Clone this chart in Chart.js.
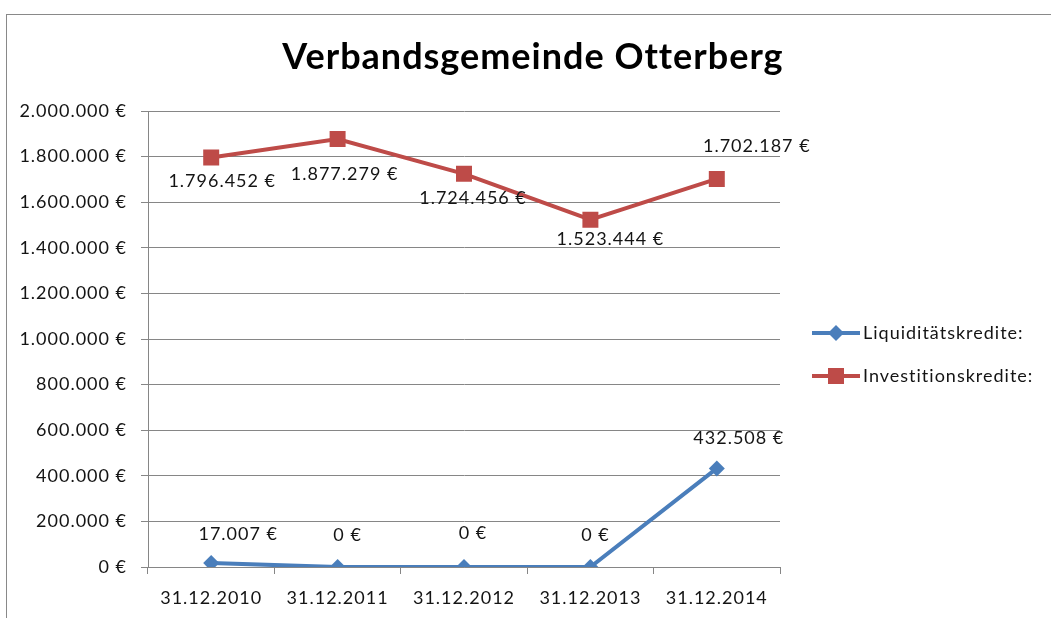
<!DOCTYPE html>
<html><head><meta charset="utf-8">
<script src="https://cdn.jsdelivr.net/npm/chart.js@4"></script>
<style>
html,body{margin:0;padding:0;background:#fff;overflow:hidden}
#wrap{position:relative;width:1051px;height:618px;overflow:hidden}
#frame{position:absolute;left:6px;top:14px;width:1100px;height:700px;border:1px solid #898989;box-sizing:border-box}
canvas{position:absolute;left:0;top:0}
</style></head><body>
<div id="wrap"><div id="frame"></div><canvas id="c" width="1051" height="618"></canvas></div>
<script>
const chartTitle = 'Verbandsgemeinde Otterberg';
const categories = ['31.12.2010','31.12.2011','31.12.2012','31.12.2013','31.12.2014'];
const seriesNames = ['Liquiditätskredite:','Investitionskredite:'];
const liquiditaetskredite = [17007, 0, 0, 0, 432508];
const investitionskredite = [1796452, 1877279, 1724456, 1523444, 1702187];
const yMin = 0, yMax = 2000000, yStep = 200000;

function fmt(n){ return String(Math.round(n)).replace(/\B(?=(\d{3})+(?!\d))/g,'.') + ' €'; }

const FONT = 'Lato';
const FS = 18;
const LS = '1px';
const TXT = '#141414';
const colors = ['#4a7ebb','#be4b48'];
const labelOffsets = [
  [[27,-29],[10,-32],[9,-34],[5,-32],[22,-30]],
  [[11,24],[7,35],[9,24],[20,20],[40,-33]]
];

const deco = {
  id:'deco',
  beforeDraw(chart){ chart.ctx.letterSpacing = LS; },
  afterDatasetsDraw(chart){
    const ctx = chart.ctx;
    ctx.save();
    ctx.letterSpacing = LS;
    ctx.font = FS + 'px ' + FONT;
    ctx.fillStyle = TXT;
    ctx.textAlign = 'center';
    ctx.textBaseline = 'middle';
    chart.data.datasets.forEach((ds, di) => {
      const meta = chart.getDatasetMeta(di);
      meta.data.forEach((pt, i) => {
        const o = labelOffsets[di][i];
        ctx.fillText(fmt(ds.data[i]), pt.x + o[0], pt.y + o[1]);
      });
    });
    ctx.restore();
  },
  afterDraw(chart){
    const ctx = chart.ctx;
    ctx.save();
    // title
    ctx.letterSpacing = '1px';
    ctx.font = 'bold 36px ' + FONT;
    ctx.fillStyle = '#000';
    ctx.textAlign = 'center';
    ctx.textBaseline = 'alphabetic';
    ctx.fillText(chartTitle, 533, 69);
    // legend
    const ys = [333, 376];
    chart.data.datasets.forEach((ds, di) => {
      const y = ys[di];
      ctx.strokeStyle = colors[di];
      ctx.lineWidth = 4;
      ctx.beginPath(); ctx.moveTo(812, y); ctx.lineTo(860, y); ctx.stroke();
      ctx.fillStyle = colors[di];
      ctx.beginPath();
      if (di === 0) {
        ctx.moveTo(836, y-8); ctx.lineTo(844, y); ctx.lineTo(836, y+8); ctx.lineTo(828, y); ctx.closePath();
      } else {
        ctx.rect(828, y-8, 16, 16);
      }
      ctx.fill();
      ctx.letterSpacing = LS;
      ctx.font = FS + 'px ' + FONT;
      ctx.fillStyle = TXT;
      ctx.textAlign = 'left';
      ctx.textBaseline = 'middle';
      ctx.fillText(ds.label, 863, y);
    });
    ctx.restore();
  }
};

new Chart(document.getElementById('c'), {
  type: 'line',
  data: {
    labels: categories,
    datasets: [
      { label: seriesNames[0], data: liquiditaetskredite, borderColor: colors[0], backgroundColor: colors[0],
        borderWidth: 4, pointStyle: 'rectRot', pointRadius: 8, pointBorderWidth: 0, tension: 0 },
      { label: seriesNames[1], data: investitionskredite, borderColor: colors[1], backgroundColor: colors[1],
        borderWidth: 4, pointStyle: 'rect', pointRadius: 11.3, pointBorderWidth: 0, tension: 0 }
    ]
  },
  options: {
    responsive: false,
    animation: false,
    layout: { padding: { left: 0, top: 111, right: 271, bottom: 0 } },
    plugins: { legend: { display: false }, title: { display: false }, tooltip: { enabled: false } },
    scales: {
      x: {
        offset: true,
        grid: { offset: true, drawOnChartArea: false, drawTicks: true, tickLength: 7, color: '#868686' },
        border: { color: '#868686' },
        ticks: { font: { family: FONT, size: FS }, color: TXT, padding: 13, maxRotation: 0, autoSkip: false },
        afterFit(s){ s.height = 51; }
      },
      y: {
        min: yMin, max: yMax,
        grid: { color: '#868686', tickLength: 7 },
        border: { color: '#868686' },
        ticks: { stepSize: yStep, callback: v => fmt(v), font: { family: FONT, size: FS }, color: TXT, padding: 14 },
        afterFit(s){ s.width = 148; }
      }
    }
  },
  plugins: [deco]
});
</script>
</body></html>
